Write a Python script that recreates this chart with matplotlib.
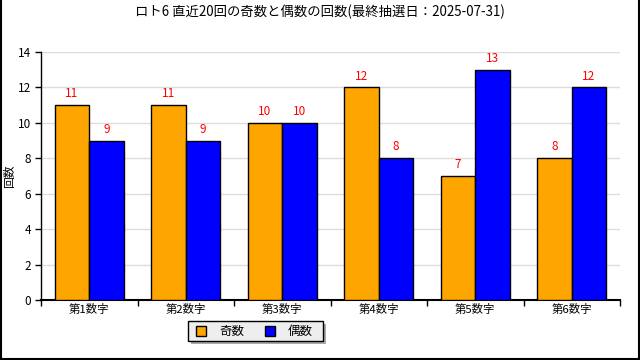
import matplotlib
matplotlib.use("Agg")
import matplotlib.pyplot as plt
from matplotlib.patches import Rectangle
from matplotlib.lines import Line2D
import numpy as np

plt.rcParams['font.family'] = ['Noto Sans CJK JP', 'DejaVu Sans']

title = "ロト6 直近20回の奇数と偶数の回数(最終抽選日：2025-07-31)"
categories = ["第1数字", "第2数字", "第3数字", "第4数字", "第5数字", "第6数字"]
odd_counts = [11, 11, 10, 12, 7, 8]
even_counts = [9, 9, 10, 8, 13, 12]
series_names = ["奇数", "偶数"]
colors = ["#FFA500", "#0000FF"]

W, H = 640, 360
fig = plt.figure(figsize=(6.4, 3.6), dpi=100)
ax = fig.add_axes([41 / W, 1 - 300 / H, (620 - 41) / W, (300 - 52) / H])

x = np.arange(len(categories))
bw = 0.358
b1 = ax.bar(x - bw / 2, odd_counts, bw, color=colors[0], edgecolor="black", linewidth=1, zorder=3)
b2 = ax.bar(x + bw / 2, even_counts, bw, color=colors[1], edgecolor="black", linewidth=1, zorder=3)
for bars, vals in ((b1, odd_counts), (b2, even_counts)):
    for r, v in zip(bars, vals):
        ax.annotate(str(v), (r.get_x() + r.get_width() / 2, v), xytext=(0, 3.5),
                    textcoords="offset points", ha="center", va="bottom",
                    color="red", fontsize=8.5)

ax.set_xlim(-0.5, len(categories) - 0.5)
ax.set_ylim(0, 14)
ax.set_yticks(range(0, 15, 2))
ax.set_xticks(x)
ax.set_xticklabels(categories, fontsize=8.2)
ax.set_xticks(np.arange(-0.5, len(categories), 1), minor=True)
ax.tick_params(axis="x", which="major", length=0, pad=3)
ax.tick_params(axis="x", which="minor", length=4, width=1, direction="out")
ax.tick_params(axis="y", length=4, width=1, labelsize=8.5, pad=3)
ax.yaxis.grid(True, color="#dddddd", linewidth=1, zorder=0)
ax.set_axisbelow(True)
for s in ("top", "right"):
    ax.spines[s].set_visible(False)
ax.spines["bottom"].set_linewidth(1.5)
ax.spines["left"].set_linewidth(1)

fig.text(10 / W, 1 - 176 / H, "回数", rotation=90, ha="center", va="center", fontsize=8.5)
fig.text(0.5, 1 - 12 / H, title, ha="center", va="center", fontsize=9.6)

# Legend box with shadow
lx0, ly0, lx1, ly1 = 188, 321, 323, 341
fig.patches.append(Rectangle(((lx0 + 3) / W, 1 - (ly1 + 3) / H), (lx1 - lx0) / W, (ly1 - ly0) / H,
                             transform=fig.transFigure, facecolor="#aaaaaa", edgecolor="none"))
fig.patches.append(Rectangle((lx0 / W, 1 - ly1 / H), (lx1 - lx0) / W, (ly1 - ly0) / H,
                             transform=fig.transFigure, facecolor="#eeeeee", edgecolor="black", linewidth=1))
for i, (name, c) in enumerate(zip(series_names, colors)):
    sx = 196 + i * 69
    fig.patches.append(Rectangle((sx / W, 1 - 336 / H), 10 / W, 10 / H, transform=fig.transFigure,
                                 facecolor=c, edgecolor="black", linewidth=1))
    fig.text((sx + 23) / W, 1 - 331 / H, name, ha="left", va="center", fontsize=9)

# outer frame (left, right, bottom)
fig.lines.append(Line2D([0.5 / W, 0.5 / W], [0, 1], transform=fig.transFigure, color="black", lw=1.5))
fig.lines.append(Line2D([1 - 0.8 / W, 1 - 0.8 / W], [0, 1], transform=fig.transFigure, color="black", lw=1.5))
fig.lines.append(Line2D([0, 1], [0.8 / H, 0.8 / H], transform=fig.transFigure, color="black", lw=1.5))

fig.savefig("out.png", dpi=100)
